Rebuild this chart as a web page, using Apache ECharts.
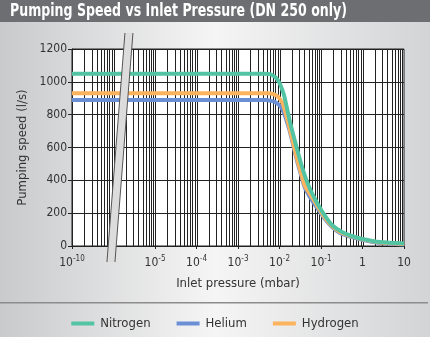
<!DOCTYPE html>
<html><head><meta charset="utf-8">
<script src="https://cdn.jsdelivr.net/npm/echarts@6/dist/echarts.min.js"></script>
<style>html,body{margin:0;padding:0;width:430px;height:337px;overflow:hidden}#c{width:430px;height:337px}</style>
</head><body><div id="c"></div><script>
// ---- data ----
const titleText = 'Pumping Speed vs Inlet Pressure (DN 250 only)';
const seriesNames = ['Nitrogen', 'Helium', 'Hydrogen'];
const xTickLabels = ['10^-10', '', '10^-5', '10^-4', '10^-3', '10^-2', '10^-1', '1', '10'];

const nitrogenP = [1e-7, 1e-3, 0.00448, 0.0059, 0.00736, 0.00871, 0.01028, 0.01282, 0.0179, 0.0312, 0.0411, 0.0543, 0.0716, 0.0946, 0.1248, 0.184, 0.321, 0.558, 1, 2.64, 10];
const nitrogenS = [1050, 1050, 1050, 1047, 1035, 1017, 987, 920, 755, 524, 426, 347, 286, 231, 183, 128, 85, 61, 43, 24, 15];

const heliumP = [1e-7, 1e-3, 0.00473, 0.00624, 0.0078, 0.0092, 0.01086, 0.01282, 0.0152, 0.0179, 0.025, 0.033, 0.0411, 0.0543, 0.0716, 0.0946, 0.1248, 0.184, 0.321, 1, 2.64, 10];
const heliumS = [890, 890, 890, 884, 877, 865, 847, 810, 755, 694, 542, 433, 353, 298, 250, 207, 164, 116, 73, 37, 18, 9];

const hydrogenP = [1e-7, 1e-3, 0.00528, 0.00697, 0.00871, 0.01028, 0.01213, 0.0179, 0.025, 0.033, 0.0411, 0.0543, 0.0716, 0.0946, 0.1248, 0.184, 0.321, 1, 2.64, 10];
const hydrogenS = [930, 930, 930, 926, 914, 895, 865, 707, 554, 445, 365, 317, 268, 218, 172, 122, 79, 40, 21, 12];

const gridDecades = [-7, -6, -5, -4, -3, -2, -1, 0];
const gridMultipliers = [1, 2, 3, 4, 5, 6, 7, 8, 9];
// ---------------------------------------

const NARROW = '"Liberation Sans Narrow","DejaVu Sans Condensed","Roboto",sans-serif';
const colors = ['#52c4a3', '#6b8fd4', '#fcb35e'];

const gridX = [];
gridDecades.forEach(d => gridMultipliers.forEach(m => gridX.push([m * Math.pow(10, d), 0])));
gridX.push([10, 0]);

function zip(a, b) { return a.map((v, i) => [v, b[i]]); }

const chart = echarts.init(document.getElementById('c'), null, { renderer: 'canvas' });

const cv = document.createElement('canvas').getContext('2d');
cv.font = 'bold 17px ' + NARROW;
const titleW = cv.measureText(titleText).width;

function lineSeries(i, p, s, z) {
  return { name: seriesNames[i], type: 'line', data: zip(p, s), z: z, smooth: 0.25, showSymbol: false,
    lineStyle: { width: 4, color: colors[i] }, itemStyle: { color: colors[i] } };
}

const option = {
  animation: false,
  backgroundColor: {
    type: 'linear', x: 0, y: 0, x2: 1, y2: 0,
    colorStops: [{ offset: 0, color: '#c9cacc' }, { offset: 0.5, color: '#f5f5f5' }, { offset: 1, color: '#d3d4d6' }]
  },
  grid: { left: 72, right: 26, top: 49, bottom: 91, show: true, backgroundColor: '#ffffff', borderColor: '#222', borderWidth: 1 },
  legend: {
    data: seriesNames, top: 312, left: 'center', icon: 'rect', itemWidth: 23, itemHeight: 4, itemGap: 26,
    textStyle: { fontFamily: NARROW, fontSize: 13, color: '#333', padding: [0, 0, 0, 1] }
  },
  xAxis: {
    type: 'log', logBase: 10, min: 1e-7, max: 10, splitNumber: 8,
    name: 'Inlet pressure (mbar)', nameLocation: 'middle', nameGap: 31,
    nameTextStyle: { fontFamily: NARROW, fontSize: 13, color: '#333' },
    axisLine: { lineStyle: { color: '#222' } },
    axisTick: { show: true, length: 3, lineStyle: { color: '#222' } },
    splitLine: { show: false }, minorTick: { show: false },
    axisLabel: {
      margin: 9, color: '#333',
      formatter: function (v) {
        const i = Math.round(Math.log10(v)) + 7;
        const s = xTickLabels[i] || '';
        if (s.indexOf('^') < 0) return s ? '{b|' + s + '}' : '';
        const p = s.split('^');
        return '{b|' + p[0] + '}{s|' + p[1] + '}';
      },
      rich: {
        b: { fontFamily: NARROW, fontSize: 12, color: '#333', lineHeight: 16 },
        s: { fontFamily: NARROW, fontSize: 8, color: '#333', lineHeight: 16, verticalAlign: 'top', padding: [0, 0, 6, 0] }
      }
    }
  },
  yAxis: {
    type: 'value', min: 0, max: 1200, interval: 200,
    name: 'Pumping speed (l/s)', nameLocation: 'middle', nameGap: 31,
    nameTextStyle: { fontFamily: NARROW, fontSize: 13, color: '#333' },
    axisLine: { show: true, lineStyle: { color: '#222' } },
    axisTick: { show: true, length: 4, lineStyle: { color: '#222' } },
    axisLabel: { fontFamily: NARROW, fontSize: 12, color: '#333', margin: 5, formatter: function (v) { return String(v); } },
    splitLine: { show: true, lineStyle: { color: '#222', width: 1 } }
  },
  series: [
    {
      name: 'grid', type: 'custom', data: gridX, z: 1, silent: true, clip: true,
      renderItem: function (params, api) {
        const a = api.coord([api.value(0), 0]);
        const b = api.coord([api.value(0), 1200]);
        const x = Math.round(a[0]) + 0.5;
        return { type: 'line', shape: { x1: x, y1: a[1], x2: x, y2: b[1] }, style: { stroke: '#222', lineWidth: 1 } };
      }
    },
    lineSeries(0, nitrogenP, nitrogenS, 5),
    lineSeries(1, heliumP, heliumS, 3),
    lineSeries(2, hydrogenP, hydrogenS, 4)
  ]
};
chart.setOption(option);

// decorations: title bar, axis break, separator
const cx = chart.convertToPixel({ xAxisIndex: 0 }, 1.43e-6);
const gTop = 49, gBot = 246;
const yT = gTop - 16, yB = gBot + 16;
const slant = 9;
const hw = 4;
const pts = [[cx + slant - hw, yT], [cx + slant + hw, yT], [cx - slant + hw, yB], [cx - slant - hw, yB]];
chart.setOption({
  graphic: [
    { type: 'rect', shape: { x: 0, y: 0, width: 430, height: 22 }, style: { fill: '#6d6e71' }, z: 10 },
    { type: 'text', x: 10, y: 11.5, scaleX: 337 / titleW, z: 11,
      style: { text: titleText, fill: '#ffffff', font: 'bold 17px ' + NARROW, textVerticalAlign: 'middle', textAlign: 'left' } },
    { type: 'polygon', shape: { points: pts }, style: { fill: '#dcdcdc' }, z: 20 },
    { type: 'line', shape: { x1: pts[0][0], y1: pts[0][1], x2: pts[3][0], y2: pts[3][1] }, style: { stroke: '#555', lineWidth: 1 }, z: 21 },
    { type: 'line', shape: { x1: pts[1][0], y1: pts[1][1], x2: pts[2][0], y2: pts[2][1] }, style: { stroke: '#555', lineWidth: 1 }, z: 21 },
    { type: 'rect', shape: { x: 0, y: 302, width: 428, height: 1.5 }, style: { fill: '#8c8c8c' }, z: 10 }
  ]
});
</script></body></html>
